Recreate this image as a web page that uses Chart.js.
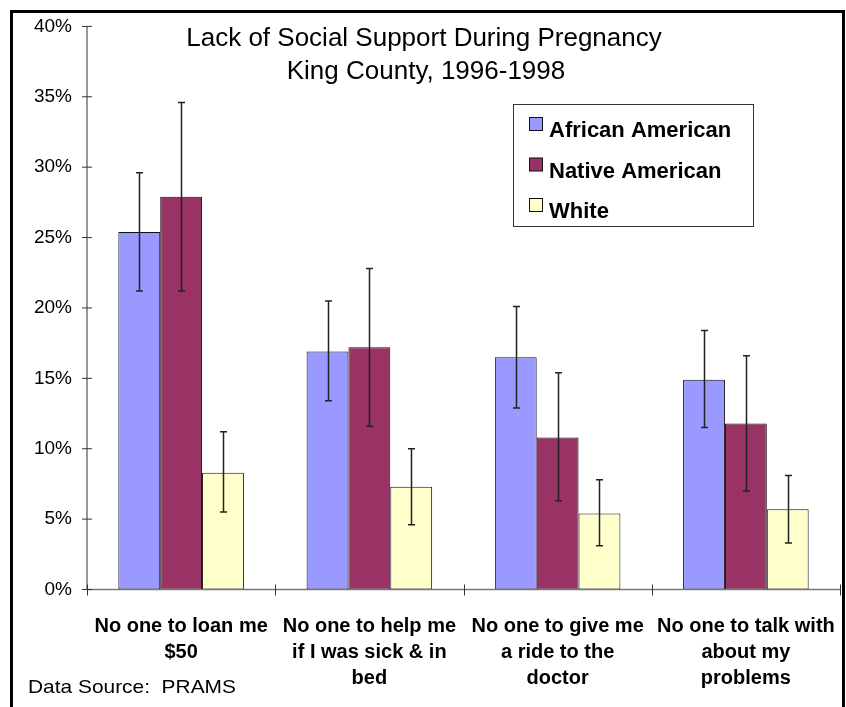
<!DOCTYPE html>
<html>
<head>
<meta charset="utf-8">
<script src="https://cdn.jsdelivr.net/npm/chart.js@4/dist/chart.umd.min.js"></script>
<style>
  body { margin: 0; background: #fff; }
  #wrap { width: 846px; height: 707px; }
</style>
</head>
<body>
<div id="wrap"><canvas id="chart" width="846" height="707"></canvas></div>
<script>
var categories = [
  ["No one to loan me", "$50"],
  ["No one to help me", "if I was sick & in", "bed"],
  ["No one to give me", "a ride to the", "doctor"],
  ["No one to talk with", "about my", "problems"]
];
var seriesNames = ["African American", "Native American", "White"];
var seriesColors = ["#9999FF", "#993366", "#FFFFCC"];

// percent values
var african = [25.4, 16.9, 16.5, 14.9];
var native = [27.9, 17.2, 10.8, 11.8];
var white = [8.3, 7.3, 5.4, 5.7];

// error bar ends (low / high)
var africanLow = [21.2, 13.4, 12.9, 11.5];
var africanHigh = [29.6, 20.5, 20.1, 18.4];
var nativeLow = [21.2, 11.6, 6.3, 7.0];
var nativeHigh = [34.6, 22.8, 15.4, 16.6];
var whiteLow = [5.5, 4.6, 3.1, 3.3];
var whiteHigh = [11.2, 10.0, 7.8, 8.1];

var yTicks = [0, 5, 10, 15, 20, 25, 30, 35, 40];

var values = [african, native, white];
var lows = [africanLow, nativeLow, whiteLow];
var highs = [africanHigh, nativeHigh, whiteHigh];

var datasets = seriesNames.map(function (name, i) {
  return {
    label: name,
    data: values[i],
    errLow: lows[i],
    errHigh: highs[i],
    backgroundColor: seriesColors[i],
    borderColor: "#111",
    borderWidth: 1,
    borderSkipped: false,
    categoryPercentage: 0.667,
    barPercentage: 1.0
  };
});

var decor = {
  id: "decor",
  beforeDraw: function (chart) {
    var ctx = chart.ctx;
    ctx.save();
    ctx.fillStyle = "#fff";
    ctx.fillRect(0, 0, chart.width, chart.height);
    ctx.restore();
  },
  afterDatasetsDraw: function (chart) {
    var ctx = chart.ctx;
    var ys = chart.scales.y, xs = chart.scales.x;
    var area = chart.chartArea;
    ctx.save();
    // error bars
    ctx.strokeStyle = "#222";
    ctx.lineWidth = 1.5;
    chart.data.datasets.forEach(function (ds, di) {
      var meta = chart.getDatasetMeta(di);
      meta.data.forEach(function (bar, i) {
        var x = Math.round(bar.x) + 0.5;
        var y1 = ys.getPixelForValue(ds.errHigh[i]);
        var y2 = ys.getPixelForValue(ds.errLow[i]);
        ctx.beginPath();
        ctx.moveTo(x, y1); ctx.lineTo(x, y2);
        ctx.moveTo(x - 3.5, y1); ctx.lineTo(x + 3.5, y1);
        ctx.moveTo(x - 3.5, y2); ctx.lineTo(x + 3.5, y2);
        ctx.stroke();
      });
    });
    // axes
    ctx.strokeStyle = "#777";
    ctx.lineWidth = 1.5;
    ctx.beginPath();
    ctx.moveTo(area.left, area.top); ctx.lineTo(area.left, area.bottom);
    ctx.moveTo(area.left, area.bottom); ctx.lineTo(area.right, area.bottom);
    ctx.stroke();
    ctx.strokeStyle = "#333";
    ctx.lineWidth = 1;
    ctx.beginPath();
    yTicks.forEach(function (v) {
      var y = ys.getPixelForValue(v);
      ctx.moveTo(area.left - 5, y); ctx.lineTo(area.left + 5, y);
    });
    for (var i = 0; i <= categories.length; i++) {
      var x = Math.round(xs.getPixelForValue(i - 0.5)) + 0.5;
      ctx.moveTo(x, area.bottom - 5); ctx.lineTo(x, area.bottom + 6);
    }
    ctx.stroke();
    ctx.restore();
  },
  afterDraw: function (chart) {
    var ctx = chart.ctx;
    ctx.save();
    // outer frame
    ctx.strokeStyle = "#000";
    ctx.lineWidth = 3;
    ctx.strokeRect(11.5, 11.5, 832, 720);
    // title
    ctx.fillStyle = "#000";
    ctx.font = "26px 'Liberation Sans', Arial, sans-serif";
    ctx.textAlign = "center";
    ctx.textBaseline = "alphabetic";
    ctx.fillText("Lack of Social Support During Pregnancy", 424, 46);
    ctx.fillText("King County, 1996-1998", 426, 79);
    // legend
    ctx.strokeStyle = "#333";
    ctx.lineWidth = 1;
    ctx.fillStyle = "#fff";
    ctx.fillRect(513.5, 104.5, 240, 122);
    ctx.strokeRect(513.5, 104.5, 240, 122);
    ctx.textAlign = "left";
    ctx.textBaseline = "middle";
    ctx.font = "bold 22px 'Liberation Sans', Arial, sans-serif";
    chart.data.datasets.forEach(function (ds, i) {
      var cy = 130 + i * 40.5;
      ctx.fillStyle = ds.backgroundColor;
      ctx.fillRect(529.5, cy - 12.5, 13, 13);
      ctx.strokeStyle = "#111";
      ctx.strokeRect(529.5, cy - 12.5, 13, 13);
      ctx.fillStyle = "#000";
      ctx.fillText(ds.label, 549, cy + 1);
    });
    // source note
    ctx.font = "19px 'Liberation Sans', Arial, sans-serif";
    ctx.translate(28, 688);
    ctx.scale(1.1, 1);
    ctx.fillText("Data Source:  PRAMS", 0, 0);
    ctx.restore();
  }
};

var chart = new Chart(document.getElementById("chart").getContext("2d"), {
  type: "bar",
  data: { labels: categories, datasets: datasets },
  options: {
    responsive: false,
    animation: false,
    layout: { padding: { top: 25.5, right: 6, left: 0, bottom: 0 } },
    plugins: { legend: { display: false }, title: { display: false }, tooltip: { enabled: false } },
    scales: {
      x: {
        offset: true,
        grid: { display: false, drawTicks: false },
        border: { display: false },
        ticks: {
          color: "#000",
          padding: 23.5,
          maxRotation: 0,
          autoSkip: false,
          font: { family: "'Liberation Sans', Arial, sans-serif", size: 20, weight: "bold", lineHeight: "26px" }
        },
        afterFit: function (s) { s.height = 117.5; s.paddingLeft = 0; s.paddingRight = 0; }
      },
      y: {
        min: 0,
        max: 40,
        afterBuildTicks: function (s) { s.ticks = yTicks.map(function (v) { return { value: v }; }); },
        grid: { display: false, drawTicks: false },
        border: { display: false },
        ticks: {
          color: "#000",
          padding: 15,
          font: { family: "'Liberation Sans', Arial, sans-serif", size: 19 },
          callback: function (v) { return v + "%"; }
        },
        afterFit: function (s) { s.width = 87; }
      }
    }
  },
  plugins: [decor]
});
</script>
</body>
</html>
